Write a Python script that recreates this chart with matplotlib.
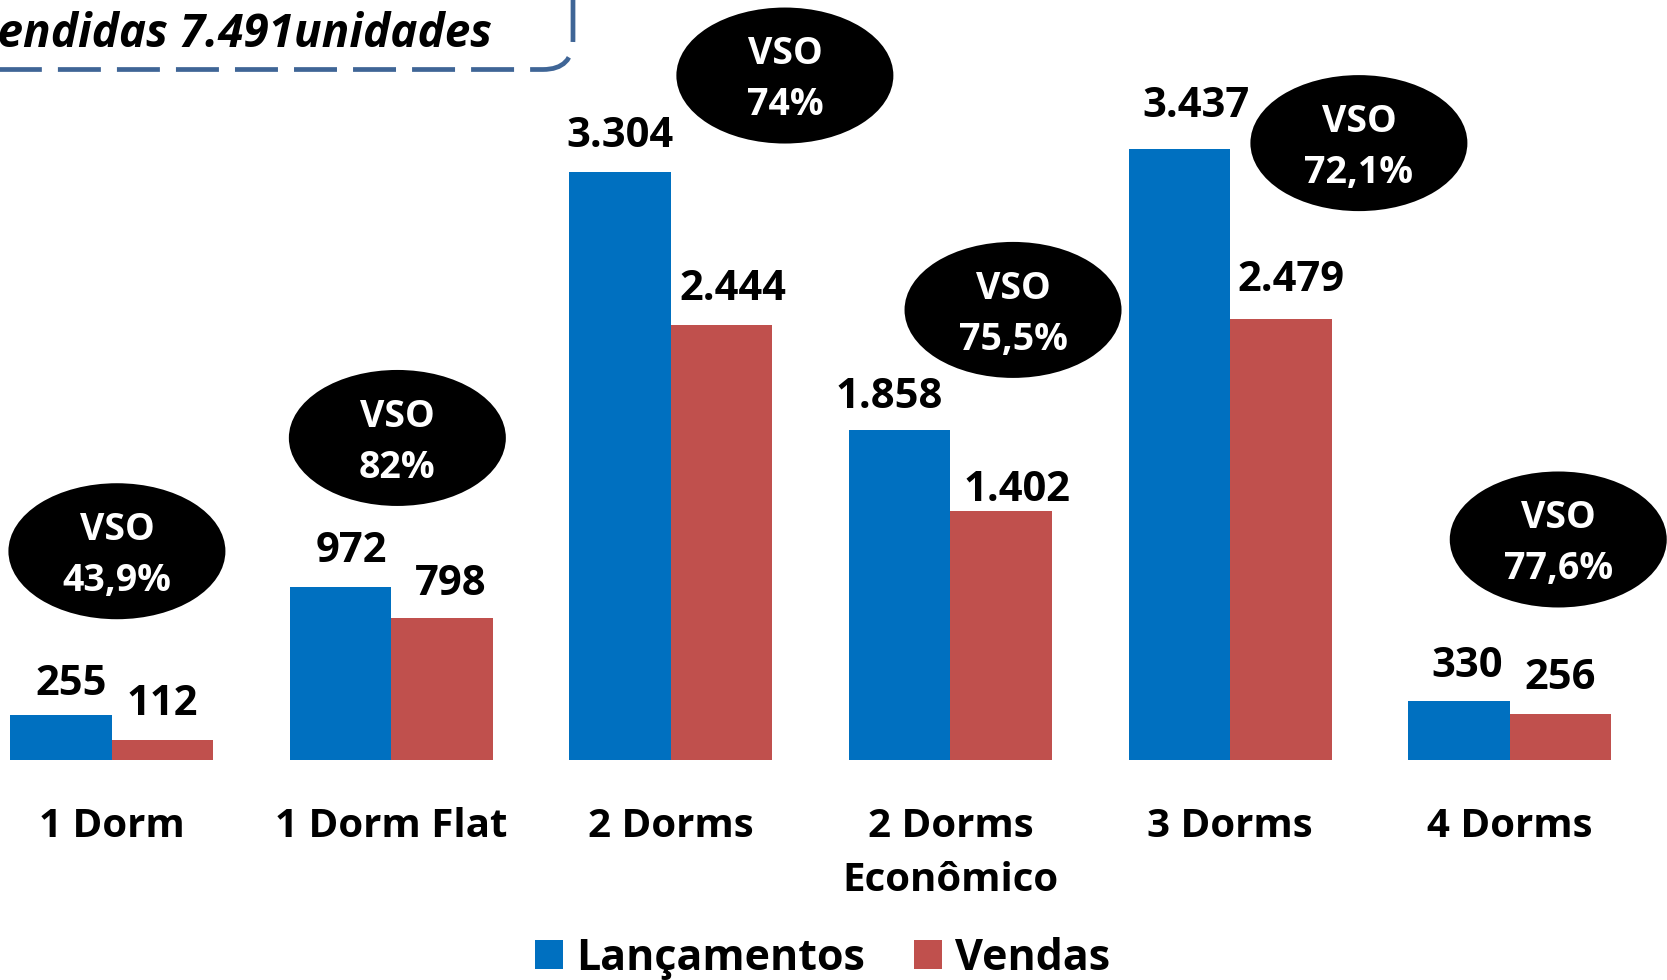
import matplotlib
matplotlib.use("Agg")
import matplotlib.pyplot as plt
from matplotlib.patches import Ellipse, FancyBboxPatch
from matplotlib.patches import Patch

plt.rcParams['font.family'] = ['Open Sans', 'DejaVu Sans']

categories = ["1 Dorm", "1 Dorm Flat", "2 Dorms", "2 Dorms\nEconômico", "3 Dorms", "4 Dorms"]
lancamentos = [255, 972, 3304, 1858, 3437, 330]
vendas = [112, 798, 2444, 1402, 2479, 256]
lanc_labels = ["255", "972", "3.304", "1.858", "3.437", "330"]
vend_labels = ["112", "798", "2.444", "1.402", "2.479", "256"]
vso_labels = ["43,9%", "82%", "74%", "75,5%", "72,1%", "77,6%"]
series_names = ["Lançamentos", "Vendas"]
box_text = "Unidades vendidas 7.491unidades"

# layout only (ellipse centres in data coords, label offsets in points)
ell_dx = [0.019, 1.022, 2.408, 3.224, 4.461, 5.174]
ell_y = [1174, 1811, 3849, 2531, 3469, 1240]
lanc_off = [(7.7, 14.5), (7.7, 18.3), (0, 18.3), (-7.7, 15.2), (12.2, 22.9), (6.1, 17.5)]
vend_off = [(0, 18.3), (6.1, 16.8), (8.4, 18.3), (11.5, 6.8), (7.7, 20.6), (0, 18.3)]

BLUE = "#0070C0"
RED = "#C0504D"

W, H = 1667, 980
fig = plt.figure(figsize=(W / 100, H / 100), dpi=100)
base_px = 760
ax = fig.add_axes([0, (H - base_px) / H, 1, base_px / H])
pxu = 0.17783
spacing = 279.6
c0 = 111.6
ax.set_xlim(-c0 / spacing, (W - c0) / spacing)
ax.set_ylim(0, base_px / pxu)

bw = 101.5 / spacing
x = list(range(len(categories)))
b1 = ax.bar([i - bw / 2 for i in x], lancamentos, width=bw, color=BLUE, label=series_names[0])
b2 = ax.bar([i + bw / 2 for i in x], vendas, width=bw, color=RED, label=series_names[1])

for rect, lab, off in zip(b1, lanc_labels, lanc_off):
    ax.annotate(lab, (rect.get_x() + rect.get_width() / 2, rect.get_height()),
                xytext=off, textcoords="offset points", ha="center", va="baseline",
                fontsize=30, fontweight="bold", color="black")
for rect, lab, off in zip(b2, vend_labels, vend_off):
    ax.annotate(lab, (rect.get_x() + rect.get_width() / 2, rect.get_height()),
                xytext=off, textcoords="offset points", ha="center", va="baseline",
                fontsize=30, fontweight="bold", color="black")

ew = 217 / spacing
eh = 136 / pxu
for ex, ey, lab in zip(ell_dx, ell_y, vso_labels):
    ax.add_patch(Ellipse((ex, ey), ew, eh, facecolor="black", edgecolor="none", zorder=5, clip_on=False))
    ax.annotate("VSO\n" + lab, (ex, ey), xytext=(0, -3), textcoords="offset points",
                ha="center", va="center", fontsize=27, fontweight="bold", color="white",
                linespacing=1.45, zorder=6)

ax.set_xticks(x)
ax.set_xticklabels(categories, fontsize=29, fontweight="bold", linespacing=1.5)
ax.tick_params(axis="x", length=0, pad=34)
ax.set_yticks([])
for s in ax.spines.values():
    s.set_visible(False)
ax.patch.set_alpha(0)

# overlay in pixel coords for the dashed box
ov = fig.add_axes([0, 0, 1, 1], zorder=10)
ov.set_xlim(0, W)
ov.set_ylim(H, 0)
ov.axis("off")
ov.patch.set_alpha(0)
box = FancyBboxPatch((-300, -100), 873, 169.5, boxstyle="round,pad=0,rounding_size=30",
                     facecolor="none", edgecolor="#3F6596", linewidth=3.4,
                     linestyle=(0, (9.1, 3.4)), clip_on=False)
ov.add_patch(box)
ov.text(492, 47, box_text, ha="right", va="baseline", fontsize=33,
        fontweight="bold", fontstyle="italic", color="black")

handles = [Patch(facecolor=BLUE), Patch(facecolor=RED)]
fig.legend(handles, series_names, loc="center", bbox_to_anchor=(0.4935, 0.022),
           ncol=2, frameon=False, prop={"size": 31, "weight": "bold"},
           handlelength=0.65, handleheight=0.65, handletextpad=0.3, columnspacing=1.15,
           borderaxespad=0, borderpad=0)

fig.savefig("out.png", dpi=100)
